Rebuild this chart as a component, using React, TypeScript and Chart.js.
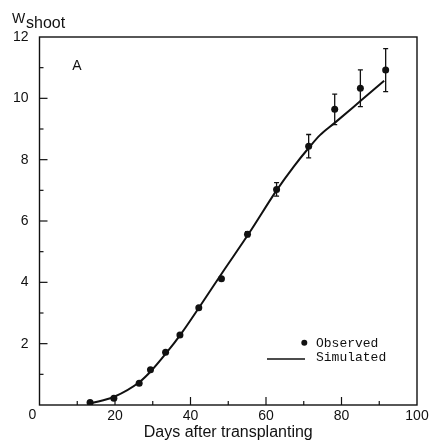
import React, { useEffect, useRef } from "react";
import { Chart, registerables } from "chart.js";

Chart.register(...registerables);

// Observed shoot weight
const obsDays = [13.4, 19.7, 26.4, 29.4, 33.4, 37.2, 42.2, 48.2, 55.1, 62.8, 71.3, 78.2, 85.0, 91.7];
const obsW = [0.08, 0.22, 0.71, 1.15, 1.72, 2.28, 3.17, 4.12, 5.57, 7.03, 8.44, 9.64, 10.33, 10.92];
const obsErr = [0, 0, 0, 0, 0, 0, 0, 0, 0.08, 0.22, 0.38, 0.5, 0.6, 0.7];

// Simulated shoot weight
const simDays = [13.5, 19.8, 26.5, 29.5, 33.5, 37.5, 42.5, 48.5, 55.5, 62.8, 67.5, 71.3, 74.3, 78.2, 85.0, 91.3];
const simW = [0.05, 0.27, 0.75, 1.1, 1.68, 2.32, 3.22, 4.33, 5.6, 7.0, 7.8, 8.38, 8.8, 9.2, 9.91, 10.57];

const xLabels = [20, 40, 60, 80, 100];
const yLabels = [2, 4, 6, 8, 10, 12];

const FONT = "'Liberation Sans', Arial, sans-serif";
const MONO = "'Liberation Mono', 'DejaVu Sans Mono', monospace";

const decorPlugin = {
  id: "decor",
  afterDatasetsDraw(chart: any) {
    const { ctx, chartArea: a, scales } = chart;
    const xs = scales.x;
    const ys = scales.y;
    ctx.save();
    ctx.strokeStyle = "#111";
    ctx.fillStyle = "#111";
    // frame
    ctx.lineWidth = 1.4;
    ctx.strokeRect(a.left, a.top, a.right - a.left, a.bottom - a.top);
    // y ticks inward
    ctx.lineWidth = 1.2;
    for (let v = 1; v < 12; v++) {
      const y = ys.getPixelForValue(v);
      const len = v % 2 === 0 ? 8 : 4;
      ctx.beginPath();
      ctx.moveTo(a.left, y);
      ctx.lineTo(a.left + len, y);
      ctx.stroke();
    }
    // x ticks inward
    for (let v = 10; v < 100; v += 10) {
      const x = xs.getPixelForValue(v);
      const len = v % 20 === 0 ? 8 : 4;
      ctx.beginPath();
      ctx.moveTo(x, a.bottom);
      ctx.lineTo(x, a.bottom - len);
      ctx.stroke();
    }
    // error bars
    ctx.lineWidth = 1.3;
    for (let i = 0; i < obsDays.length; i++) {
      if (!obsErr[i]) continue;
      const x = xs.getPixelForValue(obsDays[i]);
      const y1 = ys.getPixelForValue(obsW[i] + obsErr[i]);
      const y2 = ys.getPixelForValue(obsW[i] - obsErr[i]);
      ctx.beginPath();
      ctx.moveTo(x, y1);
      ctx.lineTo(x, y2);
      ctx.moveTo(x - 2.5, y1);
      ctx.lineTo(x + 2.5, y1);
      ctx.moveTo(x - 2.5, y2);
      ctx.lineTo(x + 2.5, y2);
      ctx.stroke();
    }
    // origin label
    ctx.font = `14px ${FONT}`;
    ctx.textAlign = "center";
    ctx.textBaseline = "middle";
    ctx.fillText("0", a.left - 7, a.bottom + 10);
    // panel label
    ctx.font = `14px ${FONT}`;
    ctx.fillText("A", 77, 66);
    // y axis title W_shoot
    ctx.textAlign = "left";
    ctx.textBaseline = "alphabetic";
    ctx.font = `14px ${FONT}`;
    ctx.fillText("W", 12, 23);
    ctx.font = `16px ${FONT}`;
    ctx.fillText("shoot", 26, 28);
    // legend
    ctx.beginPath();
    ctx.arc(304.3, 342.7, 3, 0, Math.PI * 2);
    ctx.fill();
    ctx.lineWidth = 1.5;
    ctx.beginPath();
    ctx.moveTo(267, 359);
    ctx.lineTo(305, 359);
    ctx.stroke();
    ctx.font = `13px ${MONO}`;
    ctx.fillText("Observed", 316, 347);
    ctx.fillText("Simulated", 316, 361);
    ctx.restore();
  },
};

export default function App() {
  const ref = useRef<HTMLCanvasElement | null>(null);
  useEffect(() => {
    if (!ref.current) return;
    const chart = new Chart(ref.current, {
      type: "scatter",
      data: {
        datasets: [
          {
            label: "Simulated",
            data: simDays.map((d, i) => ({ x: d, y: simW[i] })),
            showLine: true,
            borderColor: "#111",
            borderWidth: 2,
            pointRadius: 0,
            cubicInterpolationMode: "monotone",
          },
          {
            label: "Observed",
            data: obsDays.map((d, i) => ({ x: d, y: obsW[i] })),
            backgroundColor: "#111",
            borderColor: "#111",
            pointRadius: 3.5,
            borderWidth: 0,
          },
        ],
      },
      options: {
        responsive: false,
        animation: false,
        devicePixelRatio: 1,
        layout: { padding: { top: 37, right: 16, left: 0, bottom: 0 } },
        plugins: { legend: { display: false }, tooltip: { enabled: false } },
        scales: {
          x: {
            type: "linear",
            min: 0,
            max: 100,
            afterFit: (s: any) => {
              s.height = 39;
            },
            afterBuildTicks: (s: any) => {
              s.ticks = xLabels.map((v) => ({ value: v }));
            },
            ticks: {
              color: "#111",
              font: { family: FONT, size: 14 },
              padding: 3,
              maxRotation: 0,
              autoSkip: false,
            },
            grid: { display: false, drawTicks: false, tickLength: 0 },
            border: { display: false },
            title: {
              display: true,
              text: "Days after transplanting",
              color: "#111",
              font: { family: FONT, size: 16 },
              padding: { top: 0, bottom: 2 },
            },
          },
          y: {
            min: 0,
            max: 12,
            afterFit: (s: any) => {
              s.width = 39.5;
            },
            afterBuildTicks: (s: any) => {
              s.ticks = yLabels.map((v) => ({ value: v }));
            },
            ticks: {
              color: "#111",
              font: { family: FONT, size: 14 },
              padding: 11,
              autoSkip: false,
            },
            grid: { display: false, drawTicks: false, tickLength: 0 },
            border: { display: false },
          },
        },
      },
      plugins: [decorPlugin],
    } as any);
    return () => chart.destroy();
  }, []);
  return (
    <div style={{ position: "fixed", left: 0, top: 0, width: 433, height: 444, background: "#fff" }}>
      <canvas ref={ref} width={433} height={444} style={{ width: 433, height: 444, display: "block" }} />
    </div>
  );
}
